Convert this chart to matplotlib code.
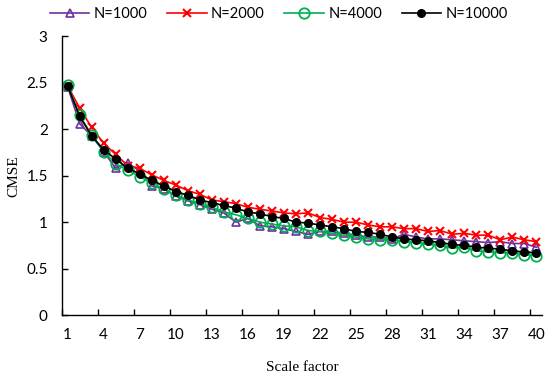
import numpy as np
import matplotlib.pyplot as plt

# ---- Data ----
scale = np.arange(1, 41)

n1000 = [2.46, 2.06, 1.93, 1.76, 1.58, 1.64, 1.55, 1.39, 1.36, 1.28,
         1.23, 1.19, 1.14, 1.10, 1.00, 1.04, 0.96, 0.95, 0.93, 0.90,
         0.87, 0.90, 0.90, 0.88, 0.86, 0.84, 0.84, 0.82, 0.87, 0.84,
         0.82, 0.82, 0.81, 0.80, 0.79, 0.78, 0.79, 0.77, 0.77, 0.73]
n2000 = [2.47, 2.23, 2.02, 1.85, 1.73, 1.61, 1.58, 1.51, 1.45, 1.40,
         1.34, 1.30, 1.24, 1.22, 1.20, 1.16, 1.14, 1.12, 1.10, 1.09,
         1.10, 1.05, 1.03, 1.00, 1.00, 0.97, 0.95, 0.95, 0.93, 0.93,
         0.90, 0.91, 0.87, 0.88, 0.86, 0.86, 0.81, 0.84, 0.81, 0.79]
n4000 = [2.48, 2.15, 1.94, 1.76, 1.63, 1.56, 1.49, 1.42, 1.36, 1.29,
         1.24, 1.20, 1.16, 1.11, 1.08, 1.04, 1.00, 0.98, 0.96, 0.95,
         0.91, 0.90, 0.88, 0.86, 0.84, 0.82, 0.81, 0.81, 0.79, 0.78,
         0.76, 0.75, 0.72, 0.73, 0.69, 0.68, 0.67, 0.67, 0.65, 0.64]
n10000 = [2.47, 2.14, 1.93, 1.78, 1.68, 1.58, 1.52, 1.45, 1.39, 1.33,
          1.29, 1.24, 1.21, 1.18, 1.15, 1.11, 1.09, 1.06, 1.04, 1.00,
          0.99, 0.97, 0.95, 0.93, 0.90, 0.89, 0.87, 0.84, 0.82, 0.81,
          0.80, 0.78, 0.76, 0.75, 0.73, 0.72, 0.71, 0.69, 0.68, 0.67]

label_ticks = np.arange(1, 41, 3)
mark_ticks = np.arange(0.5, 40.6, 3)

# ---- Plot ----
fig = plt.figure(figsize=(5.5, 3.8), dpi=100)
ax = fig.add_axes([0.112, 0.171, 0.874, 0.733])

ax.plot(scale, n1000, "-^", color="#7030A0", lw=1.2, ms=6, mfc="none",
        mew=1.2, label="N=1000")
ax.plot(scale, n2000, "-x", color="#FF0000", lw=1.2, ms=6, mew=1.5,
        label="N=2000")
ax.plot(scale, n4000, "-o", color="#00B050", lw=1.2, ms=7.5, mfc="none",
        mew=1.3, label="N=4000")
ax.plot(scale, n10000, "-o", color="black", lw=1.2, ms=5.5,
        label="N=10000")

ax.set_xlim(0.5, 40.5)
ax.set_ylim(0, 3)
ax.set_yticks(np.arange(0, 3.01, 0.5))
ax.set_yticklabels(["0", "0.5", "1", "1.5", "2", "2.5", "3"])
ax.set_xticks(label_ticks)
ax.set_xticks(mark_ticks, minor=True)
ax.tick_params(axis="x", which="major", length=0, pad=9)
ax.tick_params(axis="x", which="minor", direction="in", length=4, width=1)
ax.tick_params(axis="y", direction="in", length=4, width=1, pad=10)
for lbl in ax.get_xticklabels() + ax.get_yticklabels():
    lbl.set_family("Lato")
    lbl.set_fontsize(11)

for s in ["top", "right"]:
    ax.spines[s].set_visible(False)
ax.spines["left"].set_linewidth(1)
ax.spines["bottom"].set_linewidth(1)

ax.set_xlabel("Scale factor", family="Liberation Serif", fontsize=11,
              labelpad=14)
ax.set_ylabel("CMSE", family="Liberation Serif", fontsize=11, labelpad=4)

fig.legend(loc="center", bbox_to_anchor=(0.507, 0.963), ncol=4, frameon=False,
           prop={"family": "Lato", "size": 10.5}, handlelength=2.7,
           handletextpad=0.3, columnspacing=1.35)

fig.savefig("out.png", dpi=100)
